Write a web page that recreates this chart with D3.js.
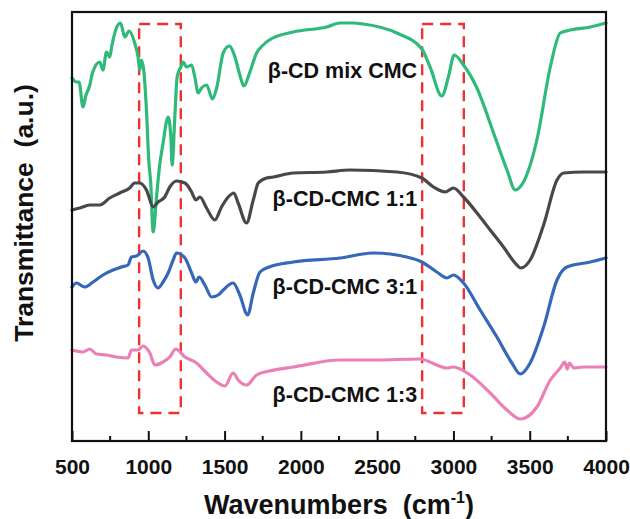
<!DOCTYPE html>
<html>
<head>
<meta charset="utf-8">
<script src="https://cdn.jsdelivr.net/npm/d3@7"></script>
<style>
  html, body { margin: 0; padding: 0; background: #fff; }
  svg { display: block; }
  text { font-family: "Liberation Sans", Arial, sans-serif; font-weight: bold; fill: #111; }
</style>
</head>
<body>
<svg id="chart" width="630" height="519"></svg>
<script>
// ---------- data (wavenumber cm-1, transmittance a.u. with vertical offsets) ----------
const xTicks = [500, 1000, 1500, 2000, 2500, 3000, 3500, 4000];
const seriesNames = ["β-CD mix CMC", "β-CD-CMC 1:1", "β-CD-CMC 3:1", "β-CD-CMC 1:3"];

const mixCMC = [
  [500,363],[529,359],[546,359],[572,334],[590,345],[617,356],[634,368],[682,379],[703,371],
  [726,389],[747,384],[762,396],[791,413],[818,418],[846,404],[874,410],[911,398],[933,384],
  [944,371],[955,381],[970,371],[988,331],[1003,281],[1016,258],[1032,209],[1054,244],[1071,271],
  [1097,298],[1130,324],[1148,304],[1156,276],[1174,324],[1189,364],[1213,374],[1228,379],
  [1251,374],[1284,376],[1305,364],[1327,348],[1349,353],[1382,356],[1421,342],[1448,353],
  [1491,388],[1530,395],[1568,384],[1600,366],[1627,355],[1666,369],[1710,388],[1753,396],
  [1793,401],[1950,409],[2169,414],[2257,418],[2344,418],[2410,417],[2629,408],[2793,392],
  [2847,374],[2924,345],[2967,364],[3005,386],[3066,376],[3154,353],[3263,308],[3351,271],
  [3405,251],[3459,259],[3547,301],[3635,374],[3700,408],[3766,411],[3897,414],[4000,418]
];
const ratio11 = [
  [500,231],[551,233],[616,236],[682,236],[747,243],[813,248],[878,253],[911,258],[944,258],
  [988,251],[1032,234],[1064,239],[1108,244],[1141,254],[1185,260],[1240,258],[1284,249],
  [1312,241],[1338,244],[1382,233],[1436,221],[1480,234],[1524,244],[1561,248],[1589,238],
  [1644,218],[1688,241],[1721,258],[1776,263],[1819,264],[1950,268],[2169,269],[2322,271],
  [2629,269],[2793,263],[2869,254],[2946,249],[3000,253],[3066,244],[3175,224],[3241,211],
  [3328,194],[3416,176],[3442,173],[3503,181],[3591,216],[3679,261],[3722,268],[3853,269],[4000,269]
];
const ratio31 = [
  [500,154],[529,158],[583,154],[638,159],[703,166],[769,171],[824,174],[867,176],[890,184],
  [923,185],[966,190],[999,183],[1032,161],[1064,153],[1097,159],[1130,168],[1163,181],
  [1185,188],[1240,183],[1284,168],[1312,159],[1333,164],[1371,156],[1415,144],[1458,146],
  [1491,151],[1556,158],[1600,146],[1651,126],[1688,148],[1732,169],[1793,174],[1950,179],
  [2257,183],[2475,188],[2694,184],[2793,179],[2891,169],[2957,163],[3000,166],[3066,158],
  [3175,131],[3285,104],[3383,78],[3438,67],[3503,78],[3591,114],[3679,161],[3744,174],
  [3897,179],[4000,183]
];
const ratio13 = [
  [500,91],[572,89],[616,92],[660,87],[726,86],[791,84],[867,83],[890,91],[933,91],[966,95],
  [1010,88],[1043,76],[1097,79],[1141,84],[1180,92],[1240,84],[1316,78],[1382,68],[1448,59],
  [1502,55],[1556,68],[1589,61],[1644,56],[1710,66],[1793,70],[1950,74],[2257,81],[2475,81],
  [2782,82],[2891,76],[2957,73],[3000,74],[3110,66],[3241,48],[3351,31],[3438,22],[3547,34],
  [3635,61],[3700,73],[3730,79],[3745,72],[3760,78],[3790,73],[3853,74],[4000,74]
];
const seriesColors = ["#2fb97a", "#484848", "#3667b9", "#eb80b7"];
// dashed boxes: [x0, x1] wavenumber, [y0, y1] a.u.
const boxX = [[940, 1213], [2795, 3068]];
const boxY = [28, 417];

// ---------- layout ----------
const margin = { left: 72, top: 12, right: 24, bottom: 78 };
const W = 630, H = 519;
const iw = W - margin.left - margin.right;   // 534
const ih = H - margin.top - margin.bottom;   // 429

const svg = d3.select("#chart");
const g = svg.append("g").attr("transform", `translate(${margin.left},${margin.top})`);

const x = d3.scaleLinear().domain([500, 4000]).range([0, iw]);
const y = d3.scaleLinear().domain([0, 429]).range([ih, 0]);

// dashed red boxes
boxX.forEach(([a, b]) => {
  g.append("rect")
    .attr("x", x(a)).attr("y", y(boxY[1]))
    .attr("width", x(b) - x(a)).attr("height", y(boxY[0]) - y(boxY[1]))
    .attr("fill", "none").attr("stroke", "#ee3030").attr("stroke-width", 2.4)
    .attr("stroke-dasharray", "11,7");
});

// curves
const line = d3.line().x(d => x(d[0])).y(d => y(d[1])).curve(d3.curveMonotoneX);
[mixCMC, ratio11, ratio31, ratio13].forEach((s, i) => {
  g.append("path").datum(s).attr("d", line)
    .attr("fill", "none").attr("stroke", seriesColors[i])
    .attr("stroke-width", 3.2).attr("stroke-linejoin", "round").attr("stroke-linecap", "round");
});

// labels
const labelPos = [[2762, 363], [2762, 235.5], [2762, 147.5], [2762, 39.5]];
seriesNames.forEach((n, i) => {
  g.append("text").attr("x", x(labelPos[i][0])).attr("y", y(labelPos[i][1]))
    .attr("text-anchor", "end").attr("font-size", 21.5).text(n);
});

// frame
g.append("rect").attr("x", 0).attr("y", 0).attr("width", iw).attr("height", ih)
  .attr("fill", "none").attr("stroke", "#111").attr("stroke-width", 2.2);

// bottom axis: inward ticks
const xAxis = d3.axisBottom(x).tickValues(xTicks).tickSizeInner(-10).tickSizeOuter(0).tickPadding(18)
  .tickFormat(d3.format("d"));
const ax = g.append("g").attr("transform", `translate(0,${ih})`).call(xAxis);
ax.select(".domain").remove();
ax.selectAll(".tick line").attr("stroke", "#111").attr("stroke-width", 2);
ax.selectAll(".tick text").attr("font-size", 21).attr("fill", "#111")
  .style("font-family", '"Liberation Sans", Arial, sans-serif').style("font-weight", "bold");
// minor ticks
const minor = d3.range(750, 4000, 500);
g.append("g").selectAll("line").data(minor).join("line")
  .attr("x1", d => x(d)).attr("x2", d => x(d)).attr("y1", ih).attr("y2", ih - 5)
  .attr("stroke", "#111").attr("stroke-width", 2);

// axis titles
const xt = svg.append("text").attr("x", margin.left + iw / 2).attr("y", 514)
  .attr("text-anchor", "middle").attr("font-size", 27).attr("xml:space", "preserve");
xt.append("tspan").text("Wavenumbers  (cm");
xt.append("tspan").attr("font-size", 16).attr("dy", -11).text("-1");
xt.append("tspan").attr("dy", 11).text(")");

svg.append("text").attr("transform", "translate(33,213) rotate(-90)")
  .attr("text-anchor", "middle").attr("font-size", 26.5).attr("xml:space", "preserve")
  .text("Transmittance  (a.u.)");
</script>
</body>
</html>
